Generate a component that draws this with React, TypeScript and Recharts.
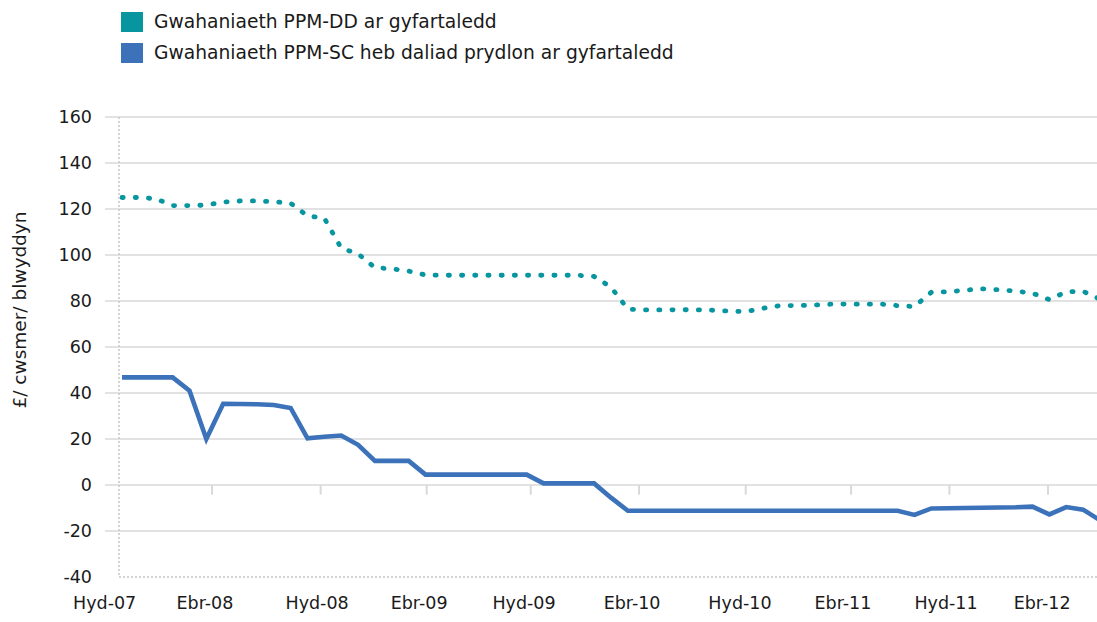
import React from 'react';
import { LineChart, Line, XAxis, YAxis, ReferenceLine, Legend } from 'recharts';

// Monthly series (index 0 = Hyd-07)
const ppmDD = [
  125, 125, 124.5, 121.5, 121.5, 121.7, 123, 123.5, 123.5, 123.2,
  122.5, 117, 116, 103, 100.5, 94.5, 94, 93, 91.3, 91.2,
  91.2, 91.2, 91.2, 91.2, 91.2, 91.2, 91.2, 91.2, 90.7, 86,
  76.5, 76.1, 76.1, 76.2, 76.2, 76, 75.6, 75.4, 76.8, 78,
  78, 78.2, 78.6, 78.7, 78.6, 78.7, 78, 77.6, 83.8, 84,
  84.7, 85.3, 84.9, 84.3, 83.4, 80.6, 84, 84.2, 80.8,
];
const ppmSC = [
  46.8, 46.8, 46.8, 46.8, 41, 20, 35.3, 35.2, 35.1, 34.8,
  33.5, 20.3, 21, 21.5, 17.5, 10.5, 10.5, 10.5, 4.5, 4.5,
  4.5, 4.5, 4.5, 4.5, 4.5, 0.7, 0.7, 0.7, 0.7, -5.5,
  -11.2, -11.2, -11.2, -11.2, -11.2, -11.2, -11.2, -11.2, -11.2, -11.2,
  -11.2, -11.2, -11.2, -11.2, -11.2, -11.2, -11.2, -13, -10.2, -10.1,
  -10, -9.9, -9.8, -9.7, -9.4, -12.8, -9.6, -10.7, -15.3,
];

const xLabels = ['Hyd-07', 'Ebr-08', 'Hyd-08', 'Ebr-09', 'Hyd-09', 'Ebr-10', 'Hyd-10', 'Ebr-11', 'Hyd-11', 'Ebr-12'];
const xLabelAt = [-1.03, 4.92, 11.57, 17.62, 23.84, 30.25, 36.65, 42.76, 48.87, 54.57];
const xTickMarkAt = [5.34, 11.78, 18.07, 24.24, 30.66, 36.99, 43.24, 49.07, 54.92];
const yTicks = [-40, -20, 0, 20, 40, 60, 80, 100, 120, 140, 160];
const gridValues = [-20, 0, 20, 40, 60, 80, 100, 120, 140, 160];

const seriesNames = {
  dd: 'Gwahaniaeth PPM-DD ar gyfartaledd',
  sc: 'Gwahaniaeth PPM-SC heb daliad prydlon ar gyfartaledd',
};

const data = ppmDD.map((v, i) => ({ k: i, dd: v, sc: ppmSC[i] }));

const FONT = '"DejaVu Sans", "Open Sans", sans-serif';
const TEXT = '#1a1a1a';
const GRID = '#d9d9d9';
const TEAL = '#07959f';
const BLUE = '#3c72b9';

const XTick = (props: any) => {
  const { x, y, payload } = props;
  const idx = xLabelAt.indexOf(payload.value);
  return (
    <text x={x} y={y} dy="0.71em" textAnchor="middle" fontFamily={FONT} fontSize={17.5} fill={TEXT}>
      {xLabels[idx]}
    </text>
  );
};

const YTick = (props: any) => {
  const { x, y, payload } = props;
  return (
    <g>
      {payload.value !== -40 && (
        <line x1={x + 13} x2={x + 27} y1={y} y2={y} stroke={GRID} strokeWidth={1.5} />
      )}
      <text x={x} y={y} dy="0.355em" textAnchor="end" fontFamily={FONT} fontSize={17.5} fill={TEXT}>
        {payload.value}
      </text>
    </g>
  );
};

const YTitle = (props: any) => {
  const { viewBox } = props;
  const cx = viewBox.x + 19;
  const cy = viewBox.y + viewBox.height / 2 - 37;
  return (
    <text
      x={cx}
      y={cy}
      transform={`rotate(-90, ${cx}, ${cy})`}
      textAnchor="middle"
      dominantBaseline="central"
      fontFamily={FONT}
      fontSize={18.5}
      fill={TEXT}
    >
      £/ cwsmer/ blwyddyn
    </text>
  );
};

const LegendBox = () => (
  <div style={{ fontFamily: FONT, fontSize: 18.7, color: TEXT }}>
    {[
      { c: TEAL, t: seriesNames.dd },
      { c: BLUE, t: seriesNames.sc },
    ].map((it) => (
      <div key={it.t} style={{ display: 'flex', alignItems: 'center', height: 31, whiteSpace: 'nowrap' }}>
        <span style={{ display: 'inline-block', width: 22, height: 20, background: it.c, marginRight: 11, flexShrink: 0 }} />
        <span>{it.t}</span>
      </div>
    ))}
  </div>
);

export default function App() {
  return (
    <div style={{ position: 'absolute', left: 0, top: 0, width: 1097, height: 622, overflow: 'hidden', background: '#fff' }}>
      <LineChart width={1105} height={622} data={data} margin={{ top: 117, right: 0, bottom: 0, left: 0 }}>
        <XAxis
          type="number"
          dataKey="k"
          domain={[-0.18, 58.3]}
          ticks={xLabelAt}
          interval={0}
          tick={<XTick />}
          tickLine={false}
          tickSize={0}
          tickMargin={20}
          height={45}
          axisLine={{ stroke: '#c6c6c6', strokeWidth: 1.5, strokeDasharray: '2 2' }}
          allowDataOverflow
        />
        <YAxis
          type="number"
          domain={[-40, 160]}
          ticks={yTicks}
          interval={0}
          width={119}
          tick={<YTick />}
          tickLine={false}
          tickSize={0}
          tickMargin={27}
          axisLine={{ stroke: '#c6c6c6', strokeWidth: 1.5, strokeDasharray: '2 2' }}
          label={<YTitle />}
        />
        {gridValues.map((v) => (
          <ReferenceLine key={`g${v}`} y={v} stroke={GRID} strokeWidth={1.5} />
        ))}
        {xTickMarkAt.map((p) => (
          <ReferenceLine
            key={`t${p}`}
            segment={[{ x: p, y: 0 }, { x: p, y: -4.2 }]}
            stroke={GRID}
            strokeWidth={2}
          />
        ))}
        <Legend
          layout="horizontal"
          verticalAlign="middle"
          align="center"
          content={<LegendBox />}
          wrapperStyle={{ left: 121, top: 6, width: 700, height: 64 }}
        />
        <Line
          type="linear"
          dataKey="dd"
          name={seriesNames.dd}
          stroke={TEAL}
          strokeWidth={4.8}
          strokeDasharray="1.2 12"
          strokeLinecap="round"
          dot={false}
          isAnimationActive={false}
        />
        <Line
          type="linear"
          dataKey="sc"
          name={seriesNames.sc}
          stroke={BLUE}
          strokeWidth={4.6}
          dot={false}
          isAnimationActive={false}
        />
      </LineChart>
    </div>
  );
}
